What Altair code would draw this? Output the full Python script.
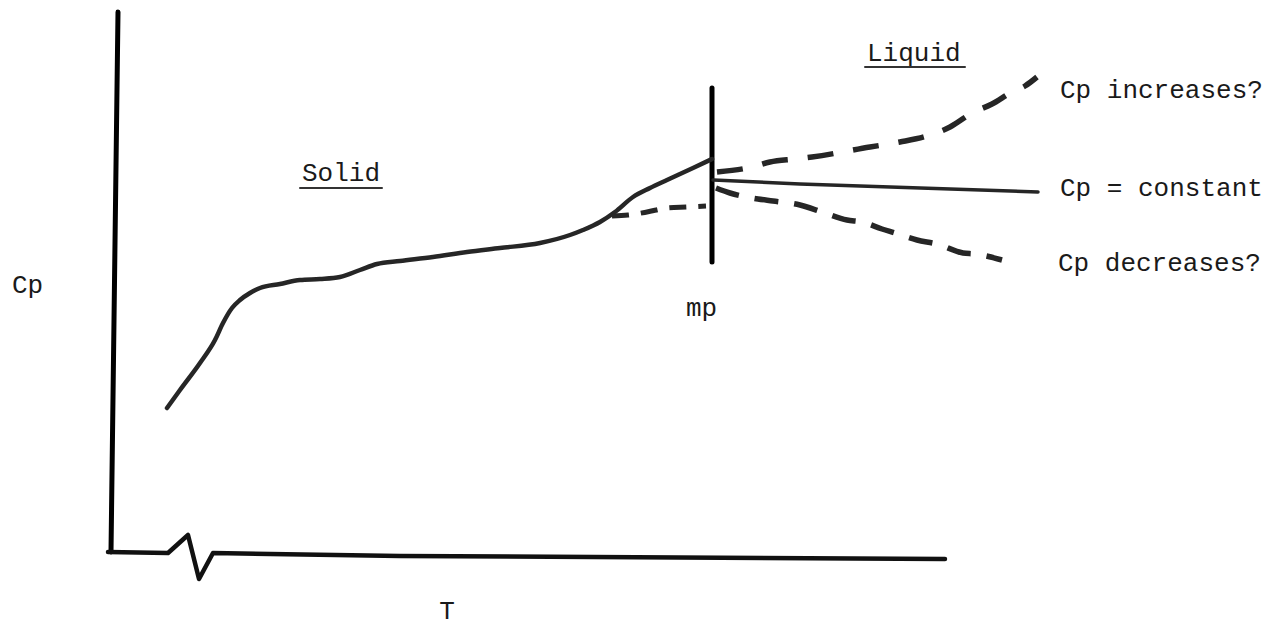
import altair as alt
import pandas as pd

# Sketch units: T to the right, Cp upward (arbitrary units)
solid_T = [167, 180, 200, 215, 223, 232, 240, 250, 260, 280, 300, 320, 340, 360, 377, 400,
           433, 467, 500, 540, 570, 583, 600, 615, 633, 650, 667, 693, 712]
solid_Cp = [226, 244, 271, 294, 311, 326, 334, 341, 346, 350, 354, 355, 357, 364, 370, 373,
            377, 382, 386, 391, 399, 404, 412, 422, 437, 446, 454, 466, 475]

nopre_T = [612, 628, 647, 667, 687, 706]
nopre_Cp = [418, 419, 422, 426, 427, 428]

inc_T = [717, 752, 770, 795, 812, 870, 900, 927, 950, 972, 992, 1012, 1025, 1037]
inc_Cp = [462, 467, 472, 475, 477, 487, 492, 498, 507, 521, 530, 542, 548, 557]

const_T = [713, 800, 1038]
const_Cp = [454, 450, 442]

dec_T = [716, 730, 758, 773, 800, 822, 847, 862, 882, 895, 917, 937, 963, 975, 1002]
dec_Cp = [446, 441, 435, 433, 429, 422, 414, 412, 405, 401, 394, 390, 381, 380, 374]

mp_T = [712, 712]
mp_Cp = [546, 372]

yaxis_T = [118, 111]
yaxis_Cp = [622, 82]

xaxis_T = [108, 168, 188, 199, 213, 400, 945]
xaxis_Cp = [82, 81, 99, 55, 81, 78, 75]

label_text = ["Cp", "Solid", "Liquid", "mp", "Cp increases?", "Cp = constant", "Cp decreases?"]
label_T = [12, 302, 867, 686, 1060, 1060, 1058]
label_Cp = [349, 461, 581, 326, 544, 446, 371]

underline_T = [[300, 382], [865, 965]]
underline_Cp = [[446, 446], [567, 567]]

axis_title_T = ["T"]
axis_title_pos = [447]
axis_title_Cp = [10]

xs = alt.Scale(domain=[8, 1262], nice=False, zero=False)
ys = alt.Scale(domain=[8, 626], nice=False, zero=False)


def frame(T, Cp):
    return pd.DataFrame({"T": T, "Cp": Cp, "o": list(range(len(T)))})


def line(T, Cp, width, color="#1c1c1c", dash=None, interp="linear"):
    kw = dict(strokeWidth=width, color=color, strokeCap="round", strokeJoin="round",
              interpolate=interp)
    if dash:
        kw["strokeDash"] = dash
        kw["strokeCap"] = "butt"
    return alt.Chart(frame(T, Cp)).mark_line(**kw).encode(
        x=alt.X("T:Q", scale=xs, axis=None),
        y=alt.Y("Cp:Q", scale=ys, axis=None),
        order="o:Q",
    )


layers = [
    line(yaxis_T, yaxis_Cp, 5, "#000000"),
    line(xaxis_T, xaxis_Cp, 4.5, "#111111"),
    line(mp_T, mp_Cp, 5, "#000000"),
    line(solid_T, solid_Cp, 4.5, "#262626", interp="monotone"),
    line(const_T, const_Cp, 3.5, "#262626", interp="monotone"),
    line(nopre_T, nopre_Cp, 5, "#262626", [17, 12], interp="monotone"),
    line(inc_T, inc_Cp, 5.5, "#262626", [26, 20], interp="monotone"),
    line(dec_T, dec_Cp, 5.5, "#262626", [24, 16], interp="monotone"),
]

for uT, uC in zip(underline_T, underline_Cp):
    layers.append(line(uT, uC, 2, "#333333"))

labels = pd.DataFrame({"T": label_T, "Cp": label_Cp, "text": label_text})
layers.append(
    alt.Chart(labels).mark_text(
        align="left", baseline="middle", font="Liberation Mono", fontSize=26, color="#1a1a1a"
    ).encode(
        x=alt.X("T:Q", scale=xs, axis=None),
        y=alt.Y("Cp:Q", scale=ys, axis=None),
        text="text:N",
    )
)

tlab = pd.DataFrame({"T": axis_title_pos, "Cp": axis_title_Cp, "text": axis_title_T})
layers.append(
    alt.Chart(tlab).mark_text(
        align="center", baseline="bottom", font="Liberation Mono", fontSize=26, color="#1a1a1a"
    ).encode(
        x=alt.X("T:Q", scale=xs, axis=None),
        y=alt.Y("Cp:Q", scale=ys, axis=None),
        text="text:N",
    )
)

chart = alt.layer(*layers).properties(
    width=1254, height=618, autosize=alt.AutoSizeParams(type="none"), padding=0,
    background="white",
).configure_view(stroke="transparent", strokeWidth=0)

chart.save("out.html", embed_options={"renderer": "svg", "actions": False})
